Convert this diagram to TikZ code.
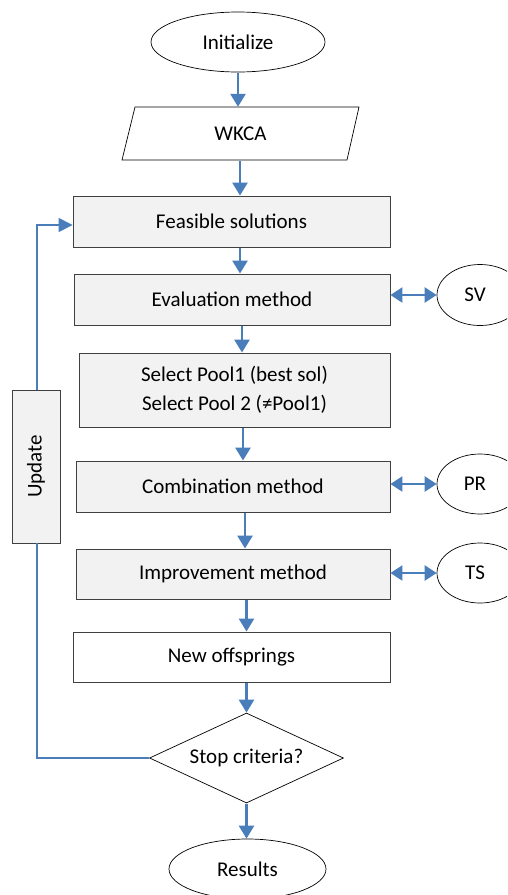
\documentclass[tikz,border=0pt]{standalone}
\usepackage{fontspec}
\setmainfont{Carlito}
\usetikzlibrary{shapes.geometric,arrows.meta}
\definecolor{flowblue}{HTML}{4A7EBB}
\definecolor{boxgray}{HTML}{F2F2F2}
\definecolor{edge}{HTML}{404040}
\begin{document}
\begin{tikzpicture}[x=1pt,y=-1pt,
  every node/.style={font=\fontsize{21}{29}\selectfont, inner sep=0pt},
  procbox/.style={draw=edge, line width=0.9pt, fill=boxgray, rectangle, align=center},
  plainbox/.style={draw=edge, line width=0.9pt, fill=white, rectangle, align=center},
  term/.style={draw=black, line width=0.7pt, ellipse},
  arr/.style={draw=flowblue, line width=2.6pt, -{Triangle[length=13pt,width=15pt]}, shorten <=1pt},
  dblarr/.style={draw=flowblue, line width=2.6pt, {Triangle[length=12pt,width=15pt]}-{Triangle[length=12pt,width=15pt]}},
  loopline/.style={draw=flowblue, line width=1.6pt}
]
\clip (0,0) rectangle (507,895);
\fill[white] (0,0) rectangle (507,895);

% nodes
\node[term, minimum width=174pt, minimum height=60pt] (init) at (238,42) {Initialize};
\draw[black, line width=0.7pt] (122,160) -- (135,107) -- (359,107) -- (347,160) -- cycle;
\node[minimum width=225pt, minimum height=53pt] (wkca) at (240.5,133.5) {WKCA};
\node[procbox, minimum width=317pt, minimum height=51pt] (feas) at (231.5,221.5) {Feasible solutions};
\node[procbox, minimum width=316pt, minimum height=51pt] (eval) at (232,299.5) {Evaluation method};
\node[procbox, minimum width=311pt, minimum height=74pt] (sel) at (234.5,390) {Select Pool1 (best sol)\\Select Pool 2 (≠Pool1)};
\node[procbox, minimum width=314pt, minimum height=51pt] (comb) at (233,486.5) {Combination method};
\node[procbox, minimum width=314pt, minimum height=50pt] (impr) at (233,574) {Improvement method};
\node[plainbox, minimum width=317pt, minimum height=50pt] (new) at (231.5,657) {New offsprings};
\node[draw=black, line width=0.7pt, diamond, aspect=2.155, minimum width=194pt, minimum height=90pt] (stop) at (246.5,758) {Stop criteria?};
\node[term, minimum width=157pt, minimum height=60pt] (res) at (247.5,869) {Results};
\node[procbox, minimum width=48pt, minimum height=153pt] (upd) at (36,466.5) {};
\node[rotate=90] (updtxt) at (upd.center) {Update};
\node[term, minimum width=86pt, minimum height=61pt] (sv) at (480,295) {\hspace*{-10pt}SV};
\node[term, minimum width=86pt, minimum height=60pt] (pr) at (480,484) {\hspace*{-10pt}PR};
\node[term, minimum width=86pt, minimum height=60pt] (ts) at (480,573) {\hspace*{-10pt}TS};

% main flow arrows
\draw[arr] (init.south) -- (init.south |- wkca.north);
\draw[arr] (240,0 |- wkca.south) -- (240,0 |- feas.north);
\draw[arr] (240,0 |- feas.south) -- (240,0 |- eval.north);
\draw[arr] (242,0 |- eval.south) -- (242,0 |- sel.north);
\draw[arr] (243,0 |- sel.south) -- (243,0 |- comb.north);
\draw[arr] (245,0 |- comb.south) -- (245,0 |- impr.north);
\draw[arr] (246.5,0 |- impr.south) -- (246.5,0 |- new.north);
\draw[arr] (stop.north |- new.south) -- (stop.north);
\draw[arr] (stop.south) -- (stop.south |- res.north);

% side double arrows
\draw[dblarr] (sv.west -| eval.east) -- (sv.west);
\draw[dblarr] (pr.west -| comb.east) -- (pr.west);
\draw[dblarr] (ts.west -| impr.east) -- (ts.west);

% loop back
\draw[loopline] (stop.west) -| (37,0 |- upd.south);
\draw[loopline, -{Triangle[length=14pt,width=14pt]}] (37,0 |- upd.north) |- ([yshift=-3.5pt]feas.west);
\end{tikzpicture}
\end{document}
